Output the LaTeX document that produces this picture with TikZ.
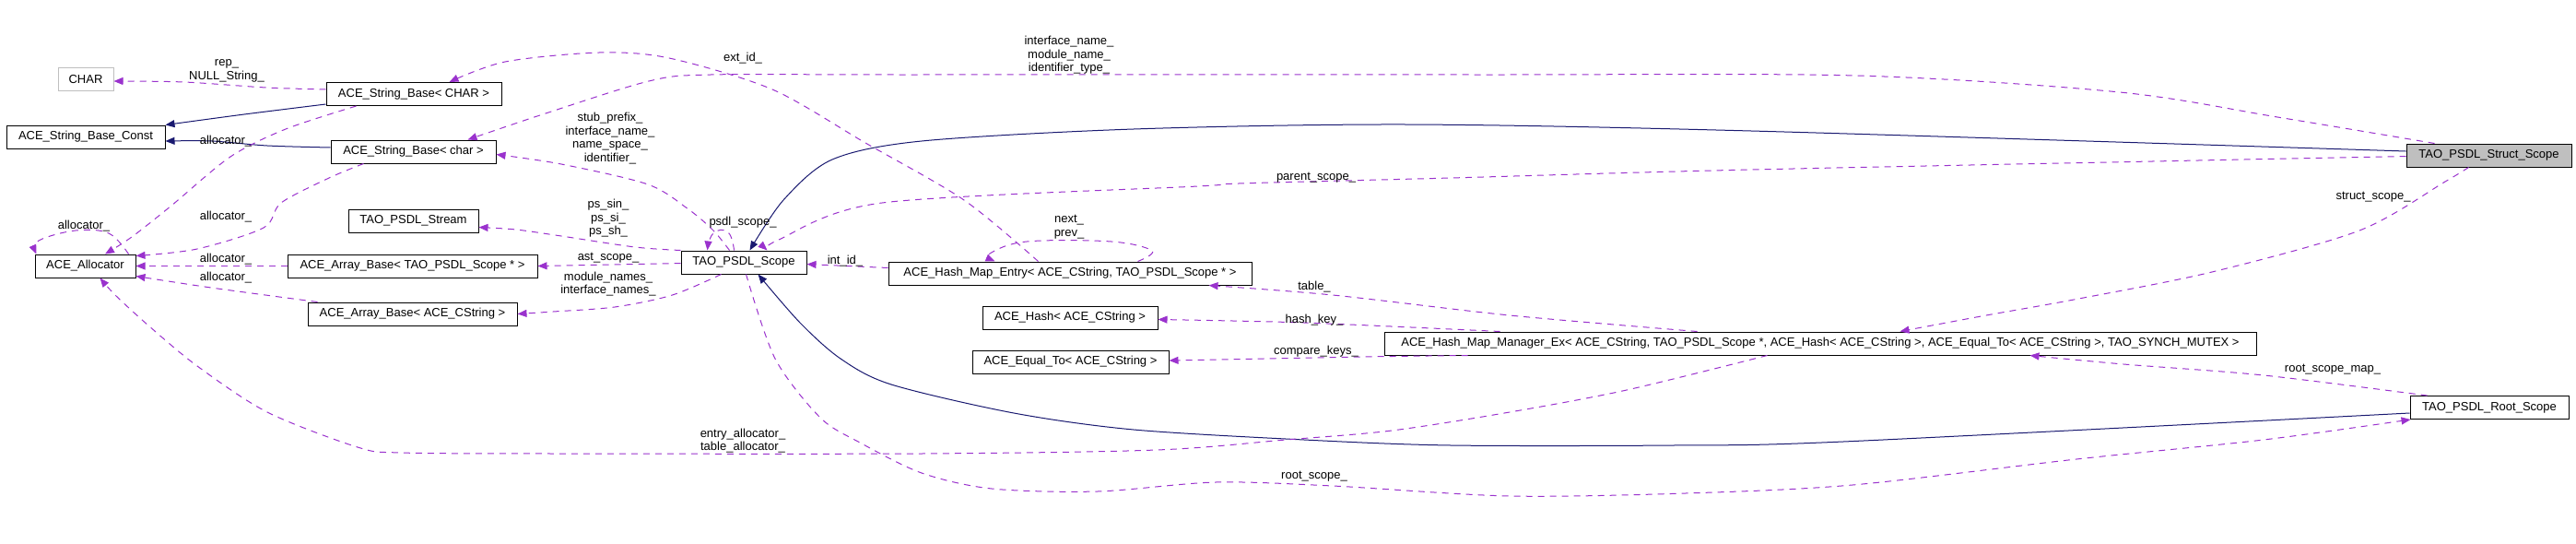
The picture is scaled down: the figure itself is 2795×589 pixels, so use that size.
\documentclass[tikz,border=0pt]{standalone}
\usepackage{fontspec}
\setmainfont{Liberation Sans}
\usetikzlibrary{arrows.meta,calc}
\definecolor{navy}{HTML}{191970}
\definecolor{orchid}{HTML}{9A32CD}
\definecolor{boxgray}{HTML}{BFBFBF}
\begin{document}
\begin{tikzpicture}[x=1pt,y=-1pt,
 cls/.style={draw=black,line width=1pt,minimum height=25pt,inner sep=0pt,font=\fontsize{13}{15}\selectfont},
 lbl/.style={inner sep=0pt,align=center,font=\fontsize{13}{14.5}\selectfont},
 inh/.style={draw=navy,line width=1pt,-{Triangle[length=10pt,width=8pt]}},
 use/.style={draw=orchid,line width=1pt,dash pattern=on 7pt off 6pt,-{Triangle[length=10pt,width=8pt]}},
 ]
\useasboundingbox (0,0) rectangle (2795,589);

% classes
\node[cls,draw=boxgray,minimum width=60pt]  (CHAR)    at (93,86)      {CHAR};
\node[cls,minimum width=190pt] (SBCHAR)  at (449,102)    {ACE\_String\_Base< CHAR >};
\node[cls,minimum width=172pt] (SBConst) at (93,148.5)   {ACE\_String\_Base\_Const};
\node[cls,minimum width=179pt] (SBchar)  at (448.5,164.5){ACE\_String\_Base< char >};
\node[cls,minimum width=141pt] (Stream)  at (448.5,239.5){TAO\_PSDL\_Stream};
\node[cls,minimum width=109pt] (Alloc)   at (92.5,288.5) {ACE\_Allocator};
\node[cls,minimum width=271pt] (ArrScope) at (447.5,288.5){ACE\_Array\_Base< TAO\_PSDL\_Scope * >};
\node[cls,minimum width=227pt] (ArrCStr) at (447.5,340.5){ACE\_Array\_Base< ACE\_CString >};
\node[cls,minimum width=136pt] (Scope)   at (807,284.5)  {TAO\_PSDL\_Scope};
\node[cls,minimum width=394pt] (HME)     at (1161,296.5) {ACE\_Hash\_Map\_Entry< ACE\_CString, TAO\_PSDL\_Scope * >};
\node[cls,minimum width=190pt] (Hash)    at (1161,344.5) {ACE\_Hash< ACE\_CString >};
\node[cls,minimum width=213pt] (EqualTo) at (1161.5,392.5){ACE\_Equal\_To< ACE\_CString >};
\node[cls,minimum width=946pt] (HMM)     at (1975,372.5) {ACE\_Hash\_Map\_Manager\_Ex< ACE\_CString, TAO\_PSDL\_Scope *, ACE\_Hash< ACE\_CString >, ACE\_Equal\_To< ACE\_CString >, TAO\_SYNCH\_MUTEX >};
\node[cls,fill=boxgray,minimum width=179pt] (Struct) at (2700.5,168.5){TAO\_PSDL\_Struct\_Scope};
\node[cls,minimum width=172pt] (Root)    at (2701,442)   {TAO\_PSDL\_Root\_Scope};

% inheritance
\draw[inh] plot[smooth,tension=.5] coordinates {($(SBCHAR.south west)+(0,-2)$) (265,124) (SBConst.north east)};
\draw[inh] plot[smooth,tension=.5] coordinates {($(SBchar.west)+(0,-4.5)$) (290,158) (230,153) ($(SBConst.east)+(0,4.5)$)};
\draw[inh] plot[smooth,tension=.5] coordinates {($(Struct.west)+(0,-4.5)$) (1900,142) (1525,135) (1230,140) (1000,153) (903,173) (850,217) ($(Scope.north west)+(75,0)$)};
\draw[inh] plot[smooth,tension=.5] coordinates {($(Root.west)+(0,6)$) (2000,479) (1816,483) (1574,483) (1415,477) (1230,466) (1100,448) (967,417) (912,389) (868,350) ($(Scope.south west)+(84,0)$)};

% usage
\draw[use] plot[smooth,tension=.5] coordinates {($(SBCHAR.west)+(0,-5)$) (289,95) (200,89) ($(CHAR.east)+(0,2)$)};
\node[lbl] (l3) at (246,77) {rep\_\\NULL\_String\_};

\draw[use] plot[smooth,tension=.5] coordinates {($(SBCHAR.south west)+(33,0)$) (310,140) (250,170) (186,223) (143,257) ($(Alloc.north)+(21.5,0)$)};
\node[lbl] (l4) at (245,153) {allocator\_};

\draw[use] plot[smooth,tension=.5] coordinates {($(SBchar.south west)+(36,0)$) (357,193) (305,220) (286,247) (214,270) ($(Alloc.north east)+(0,2)$)};
\node[lbl] (l5) at (245,235) {allocator\_};

\draw[use] plot[smooth,tension=.6] coordinates {($(Alloc.north east)+(-8,0)$) (118,253) (82,250) (42,261) ($(Alloc.north west)+(2,0)$)};
\node[lbl] (l6) at (91,245) {allocator\_};

\draw[use] (ArrScope.west) -- (Alloc.east);
\node[lbl] (l7) at (245,281) {allocator\_};

\draw[use] plot[smooth,tension=.5] coordinates {($(ArrCStr.north west)+(11,0)$) (229,312) ($(Alloc.south east)+(0,-2)$)};
\node[lbl] (l8) at (245,301) {allocator\_};

\draw[use] plot[smooth,tension=.5] coordinates {($(HMM.south west)+(416,0)$) (1765,423) (1638,447) (1510,467) (1395,477) (1255,488) (1000,492) (600,492) (435,491) (388,485) (290,447) (214,397) (161,353) (125,320) ($(Alloc.south)+(16,0)$)};
\node[lbl] (l9) at (806,478) {entry\_allocator\_\\table\_allocator\_};

\draw[use] plot[smooth,tension=.5] coordinates {($(Scope.north west)+(53,0)$) (774,250) (747,227) (703,200) (609,178) ($(SBchar.east)+(0,3)$)};
\node[lbl] (l10) at (662,150) {stub\_prefix\_\\interface\_name\_\\name\_space\_\\identifier\_};

\draw[use] plot[smooth,tension=.5] coordinates {($(HME.north west)+(163,0)$) (1046,217) (939,155) (838,97) (726,63) (650,57) (548,67) ($(SBCHAR.north west)+(134,0)$)};
\node[lbl] (l11) at (806,63) {ext\_id\_};

\draw[use] plot[smooth,tension=.5] coordinates {($(Struct.north west)+(31,0)$) (2471,127) (2300,100) (2014,82) (1600,81) (980,81) (771,81) (704,88) (592,123) ($(SBchar.north west)+(149,0)$)};
\node[lbl] (l12) at (1160,60) {interface\_name\_\\module\_name\_\\identifier\_type\_};

\draw[use] plot[smooth,tension=.5] coordinates {($(Struct.west)+(0,1)$) (1900,184) (1574,193) (1344,199) (1300,202) (957,220) (845,260) ($(Scope.north east)+(-43,0)$)};
\node[lbl] (l14) at (1428,193) {parent\_scope\_};

\draw[use] plot[smooth,tension=.8] coordinates {($(Scope.north west)+(58,0)$) (790,252) (774,253) ($(Scope.north west)+(29,0)$)};
\node[lbl] (l15) at (806,241) {psdl\_scope\_};

\draw[use] plot[smooth,tension=.5] coordinates {(Scope.north west) (689,268) (609,256) (560,249) ($(Stream.east)+(0,7)$)};
\node[lbl] (l16) at (660,237) {ps\_sin\_\\ps\_si\_\\ps\_sh\_};

\draw[use] ($(Scope.west)+(0,1)$) -- (ArrScope.east);
\node[lbl] (l17) at (660,280) {ast\_scope\_};

\draw[use] plot[smooth,tension=.5] coordinates {($(Scope.south west)+(44,0)$) (729.5,320) (667,333) (600,338) (ArrCStr.east)};
\node[lbl] (l18) at (660,308) {module\_names\_\\interface\_names\_};

\draw[use] ($(HME.west)+(0,-6)$) -- ($(Scope.east)+(0,2)$);
\node[lbl] (l19) at (917,283) {int\_id\_};

\draw[use] plot[smooth,tension=.6] coordinates {($(HME.north west)+(271,0)$) (1250,272) (1206,262) (1114,262) (1074,275) ($(HME.north west)+(116,0)$)};
\node[lbl] (l20) at (1160,246) {next\_\\prev\_};

\draw[use] plot[smooth,tension=.5] coordinates {($(HMM.north west)+(340,0)$) (1638,342) (1446,320) ($(HME.south west)+(348,0)$)};
\node[lbl] (l21) at (1426,311) {table\_};

\draw[use] plot[smooth,tension=.5] coordinates {($(HMM.north west)+(126,0)$) (1415,350) ($(Hash.east)+(0,2)$)};
\node[lbl] (l22) at (1426,347) {hash\_key\_};

\draw[use] plot[smooth,tension=.5] coordinates {($(HMM.south west)+(91,0)$) (1478,387) ($(EqualTo.east)+(0,-1.5)$)};
\node[lbl] (l23) at (1428,381) {compare\_keys\_};

\draw[use] plot[smooth,tension=.5] coordinates {($(Struct.south west)+(68,0)$) (2653,197) (2560,250) (2400,295) (2250,325) (2155,342) ($(HMM.north west)+(560,0)$)};
\node[lbl] (l24) at (2575,214) {struct\_scope\_};

\draw[use] plot[smooth,tension=.5] coordinates {($(Root.north west)+(19,0)$) (2456,407) (2304,395) ($(HMM.south west)+(701,0)$)};
\node[lbl] (l25) at (2531,401) {root\_scope\_map\_};

\draw[use] plot[smooth,tension=.5] coordinates {($(Scope.south west)+(71,0)$) (841,389) (890,453) (933,480) (1000,513) (1076,530) (1191,533) (1319,523) (1446,527) (1638,538) (1829,535) (2010,526) (2253,498) (2456,477) ($(Root.south west)+(1,0)$)};
\node[lbl] (l27) at (1426,517) {root\_scope\_};
\end{tikzpicture}
\end{document}
